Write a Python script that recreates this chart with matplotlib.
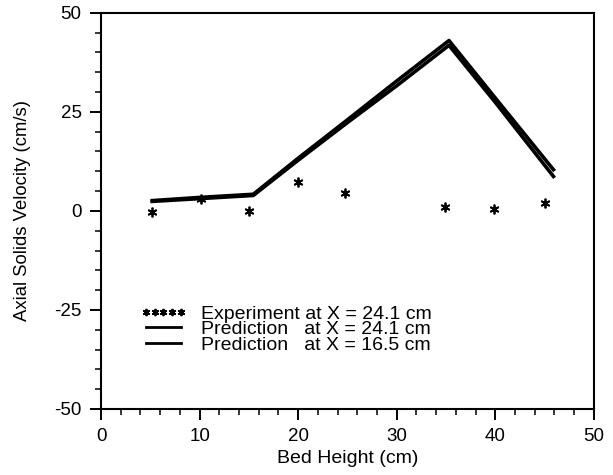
import matplotlib
matplotlib.use("Agg")
import matplotlib.pyplot as plt
from matplotlib.ticker import MultipleLocator

plt.rcParams['font.family'] = ['Liberation Sans', 'DejaVu Sans']
plt.rcParams['axes.unicode_minus'] = False

# bed height (cm)
pred_x = [5.2, 10, 15.45, 20, 25, 30, 35.3, 40, 45.9]
# prediction at X = 24.1 cm
pred_241 = [2.6, 3.4, 4.2, 13.3, 23.0, 32.8, 43.0, 28.5, 10.4]
# prediction at X = 16.5 cm
pred_165 = [2.4, 3.1, 3.9, 12.8, 22.3, 31.6, 41.8, 27.4, 8.7]

# experiment at X = 24.1 cm
exp_x = [5.2, 10.1, 15, 20, 24.8, 34.9, 39.9, 45]
exp_y = [-0.2, 2.9, 0.1, 7.4, 4.5, 0.9, 0.4, 1.9]

labels = ['Experiment at X = 24.1 cm',
          'Prediction   at X = 24.1 cm',
          'Prediction   at X = 16.5 cm']

fig = plt.figure(figsize=(6.13, 4.75), dpi=100)
ax = fig.add_axes([0.1648, 0.139, 0.804, 0.834])

ax.plot(exp_x, exp_y, linestyle='none', marker=(6, 2, 0), markersize=7,
        color='black', markeredgewidth=1.3, label=labels[0])
ax.plot(pred_x, pred_241, color='black', linewidth=2.6, label=labels[1])
ax.plot(pred_x, pred_165, color='black', linewidth=2.6, label=labels[2])

ax.set_xlim(0, 50)
ax.set_ylim(-50, 50)
ax.xaxis.set_major_locator(MultipleLocator(10))
ax.xaxis.set_minor_locator(MultipleLocator(2))
ax.yaxis.set_major_locator(MultipleLocator(25))
ax.yaxis.set_minor_locator(MultipleLocator(5))
ax.tick_params(which='major', direction='out', length=8, width=1.4,
               labelsize=13.5, pad=6)
ax.tick_params(which='minor', direction='out', length=4.5, width=1.1)
for s in ax.spines.values():
    s.set_linewidth(1.5)

ax.set_xlabel('Bed Height (cm)', fontsize=14)
ax.set_ylabel('Axial Solids Velocity (cm/s)', fontsize=13.3)
ax.xaxis.set_label_coords(0.5, -0.103)
ax.yaxis.set_label_coords(-0.142, 0.5)

leg = ax.legend(loc='upper left', bbox_to_anchor=(0.079, 0.262), frameon=False,
                fontsize=14, numpoints=5, markerscale=0.75, handlelength=2.42,
                handletextpad=0.72, labelspacing=-0.11, borderpad=0,
                borderaxespad=0)
for h in leg.legend_handles[1:]:
    h.set_linewidth(2.0)

fig.savefig('out.png', dpi=100)
